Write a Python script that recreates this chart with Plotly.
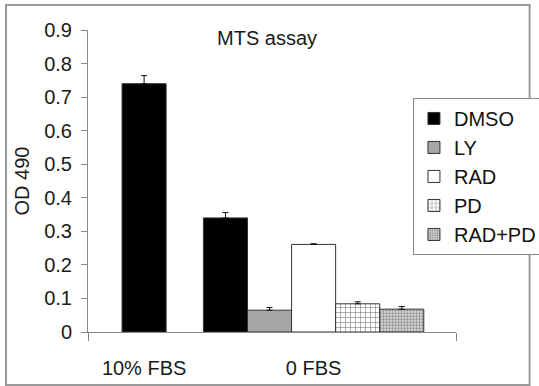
import plotly.graph_objects as go

categories = ["10% FBS", "0 FBS"]
series_names = ["DMSO", "LY", "RAD", "PD", "RAD+PD"]

dmso_vals = [0.74, 0.34]
dmso_err = [0.024, 0.016]
ly_vals = [0.065]
ly_err = [0.008]
rad_vals = [0.261]
rad_err = [0.002]
pd_vals = [0.084]
pd_err = [0.006]
radpd_vals = [0.068]
radpd_err = [0.008]

yticks = [0, 0.1, 0.2, 0.3, 0.4, 0.5, 0.6, 0.7, 0.8, 0.9]
ytick_text = ["0", "0.1", "0.2", "0.3", "0.4", "0.5", "0.6", "0.7", "0.8", "0.9"]

FONT = "Liberation Sans, Arial, sans-serif"
FS = 20
W = 0.26
LINE = dict(color="#333333", width=1)


def err(a):
    return dict(type="data", array=a, arrayminus=[0] * len(a), symmetric=False,
                color="#111111", thickness=1, width=3)


fig = go.Figure()
fig.add_trace(go.Bar(name=series_names[0], x=categories, y=dmso_vals,
                     offset=[-W / 2, -2.5 * W], width=W,
                     marker=dict(color="#000000", line=LINE), error_y=err(dmso_err)))
fig.add_trace(go.Bar(name=series_names[1], x=categories[1:], y=ly_vals,
                     offset=-1.5 * W, width=W,
                     marker=dict(color="#a6a6a6", line=LINE), error_y=err(ly_err)))
fig.add_trace(go.Bar(name=series_names[2], x=categories[1:], y=rad_vals,
                     offset=-0.5 * W, width=W,
                     marker=dict(color="#ffffff", line=LINE), error_y=err(rad_err)))
fig.add_trace(go.Bar(name=series_names[3], x=categories[1:], y=pd_vals,
                     offset=0.5 * W, width=W,
                     marker=dict(color="#ffffff", line=LINE,
                                 pattern=dict(shape="+", fgcolor="#111111", bgcolor="#ffffff",
                                              size=5, solidity=0.25)),
                     error_y=err(pd_err)))
fig.add_trace(go.Bar(name=series_names[4], x=categories[1:], y=radpd_vals,
                     offset=1.5 * W, width=W,
                     marker=dict(color="#cccccc", line=LINE,
                                 pattern=dict(shape=".", fgcolor="#444444", bgcolor="#d8d8d8",
                                              size=3, solidity=0.45)),
                     error_y=err(radpd_err)))

fig.update_layout(
    width=539, height=386,
    margin=dict(l=88, r=83, t=30, b=54, autoexpand=False),
    paper_bgcolor="#ffffff", plot_bgcolor="#ffffff",
    barmode="overlay",
    font=dict(family=FONT, size=FS, color="#1a1a1a"),
    title=dict(text="MTS assay", x=0.4955, y=0.9016, xanchor="center", yanchor="middle",
               font=dict(family=FONT, size=FS, color="#1a1a1a")),
    showlegend=True,
    legend=dict(x=0.883, y=0.775, xanchor="left", yanchor="top",
                bordercolor="#888888", borderwidth=1, bgcolor="#ffffff",
                font=dict(family=FONT, size=FS, color="#111111"),
                tracegroupgap=0, itemclick=False),
    shapes=[dict(type="rect", xref="paper", yref="paper",
                 x0=-0.2228, x1=1.2, y0=-0.1755, y1=1.0828,
                 line=dict(color="#999999", width=2), fillcolor="rgba(0,0,0,0)",
                 layer="below")],
)

fig.update_xaxes(type="category", range=[-0.331, 1.84], showgrid=False,
                 showline=True, linecolor="#888888", linewidth=1,
                 ticks="", tickfont=dict(family=FONT, size=FS, color="#1a1a1a"),
                 ticklabelstandoff=18,
                 minor=dict(tickvals=[-0.331, 1.84], ticks="outside", ticklen=8,
                            tickcolor="#888888", tickwidth=1),
                 zeroline=False, fixedrange=True)
fig.update_yaxes(range=[0, 0.9], tickvals=yticks, ticktext=ytick_text,
                 showgrid=False, zeroline=False,
                 showline=True, linecolor="#888888", linewidth=1,
                 ticks="outside", ticklen=6, tickcolor="#888888",
                 ticklabelstandoff=5,
                 tickfont=dict(family=FONT, size=FS, color="#1a1a1a"),
                 title=dict(text="OD 490", standoff=9,
                            font=dict(family=FONT, size=FS, color="#1a1a1a")))

fig.write_html("out.html", config={"displayModeBar": False},
               post_script="document.body.style.margin='0';")
